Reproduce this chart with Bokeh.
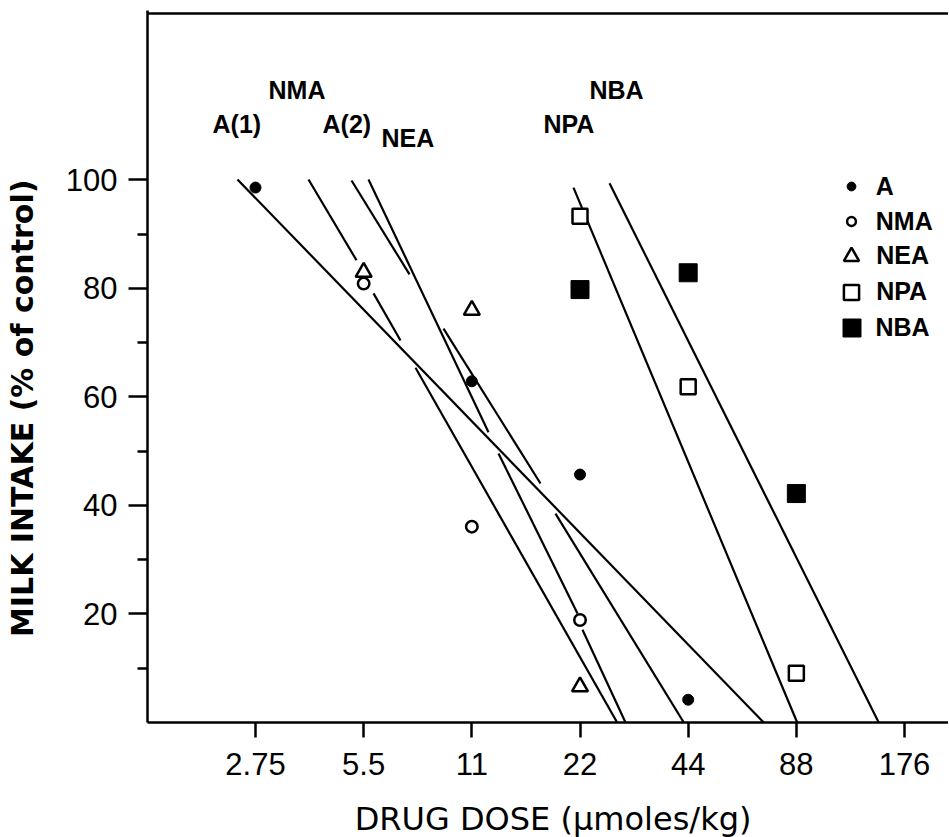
from bokeh.plotting import figure
from bokeh.models import Range1d, FixedTicker, Span, Legend, LegendItem
from bokeh.core.properties import value
from bokeh.embed import file_html
from bokeh.resources import INLINE

# ---------------- data ----------------
tick_doses = [2.75, 5.5, 11, 22, 44, 88, 176]
tick_labels = ["2.75", "5.5", "11", "22", "44", "88", "176"]
y_major = [20, 40, 60, 80, 100]
y_minor = [10, 30, 50, 70, 90]

a_dose = [2.75, 11, 22, 44]
a_intake = [98.6, 62.9, 45.7, 4.2]
nma_dose = [5.5, 11, 22]
nma_intake = [80.9, 36.1, 18.9]
nea_dose = [5.5, 11, 22]
nea_intake = [83.0, 76.0, 6.6]
npa_dose = [22, 44, 88]
npa_intake = [93.3, 61.9, 9.1]
nba_dose = [22, 44, 88]
nba_intake = [79.8, 82.9, 42.2]

# fitted dose-response lines, drawn as pen strokes (broken where they cross)
seg_dose0 = [2.450, 3.862, 5.858, 7.667, 5.088, 9.174, 18.80, 5.673, 13.05, 22.35, 21.10, 26.58]
seg_int0 = [100.1, 100.1, 79.1, 65.4, 99.9, 72.6, 38.5, 100.1, 49.6, 17.1, 98.6, 99.4]
seg_dose1 = [71.4, 5.253, 6.965, 27.92, 7.378, 17.08, 42.79, 12.24, 21.65, 29.45, 88.49, 149.2]
seg_int1 = [0.0, 85.2, 70.4, 0.0, 82.6, 44.06, 0.0, 53.5, 20.1, 0.0, 0.0, 0.0]

# line names written above the lines
ann_text = ["A(1)", "NMA", "A(2)", "NEA", "NPA", "NBA"]
ann_dose = [2.088, 2.989, 4.225, 6.166, 17.41, 23.38]
ann_int = [110.3, 116.65, 110.3, 107.75, 110.4, 116.65]

X_TITLE = "DRUG DOSE (\u03bcmoles/kg)"
Y_TITLE = "MILK INTAKE (% of control)"

# ---------------- figure ----------------
p = figure(x_axis_type="log", x_range=Range1d(1.3765, 233.3), y_range=Range1d(0, 131.24),
           frame_width=801, frame_height=712,
           min_border_left=147, min_border_right=0, min_border_top=10, min_border_bottom=115,
           output_backend="svg", toolbar_location=None,
           background_fill_color="white", border_fill_color="white", outline_line_color=None)
p.grid.visible = False

xa = p.xaxis[0]
ya = p.yaxis[0]
xa.ticker = FixedTicker(ticks=tick_doses, minor_ticks=[])
xa.major_label_overrides = {d: l for d, l in zip(tick_doses, tick_labels)}
ya.ticker = FixedTicker(ticks=y_major, minor_ticks=y_minor)

for ax in (xa, ya):
    ax.axis_line_width = 2.5
    ax.axis_line_color = "black"
    ax.major_tick_line_width = 2.5
    ax.minor_tick_line_width = 2.5
    ax.major_tick_line_color = "black"
    ax.minor_tick_line_color = "black"
    ax.major_tick_in = 0
    ax.minor_tick_in = 0
    ax.major_label_text_font = "Liberation Sans"
    ax.major_label_text_font_size = "31px"
    ax.major_label_text_color = "black"
    ax.axis_label_text_color = "black"
xa.major_tick_out = 15
xa.minor_tick_out = 0
xa.major_label_standoff = 15
ya.major_tick_out = 19
ya.minor_tick_out = 10
ya.major_label_standoff = 11

# axis titles (no-break spaces only nudge the centred titles along their axes)
xa.axis_label = "\u00a0" + X_TITLE
xa.axis_label_text_font = "DejaVu Sans"
xa.axis_label_text_font_style = "normal"
xa.axis_label_text_font_size = "32px"
xa.axis_label_standoff = 22
ya.axis_label = Y_TITLE + "\u00a0" * 8
ya.axis_label_text_font = "DejaVu Sans"
ya.axis_label_text_font_style = "bold"
ya.axis_label_text_font_size = "30px"
ya.axis_label_standoff = 23

# top border of the frame
p.add_layout(Span(location=130.7, dimension="width", line_color="black", line_width=2.5))

# lines
p.segment(x0=seg_dose0, y0=seg_int0, x1=seg_dose1, y1=seg_int1, line_color="black", line_width=2.2)

# points
r_a = p.scatter(a_dose, a_intake, marker="circle", size=11, fill_color="black", line_color="black", line_width=1)
r_nma = p.scatter(nma_dose, nma_intake, marker="circle", size=11.5, fill_color="white", line_color="black", line_width=2.5)
r_nea = p.scatter(nea_dose, nea_intake, marker="triangle", size=16, fill_color="white", line_color="black", line_width=2.5)
r_npa = p.scatter(npa_dose, npa_intake, marker="square", size=15, fill_color="white", line_color="black", line_width=2.5)
r_nba = p.scatter(nba_dose, nba_intake, marker="square", size=18, fill_color="black", line_color="black", line_width=1)

# line names
p.text(x=ann_dose, y=ann_int, text=ann_text, text_font=value("Liberation Sans"), text_font_style="bold",
       text_font_size="25px", text_align="left", text_baseline="alphabetic", text_color="black")

# legend (one entry per Legend so each symbol keeps its own size)
leg_labels = ["A", "NMA", "NEA", "NPA", "NBA"]
leg_renderers = [r_a, r_nma, r_nea, r_npa, r_nba]
leg_sizes = [9, 9, 15, 15, 18]
leg_row_y = [536, 501, 466, 430, 395]   # row centres, px above the frame bottom
LEG_SYM_X = 704                         # symbol centre, px right of the frame left
LEG_TXT_X = 729                         # label start
for lab, rend, sz, ry in zip(leg_labels, leg_renderers, leg_sizes, leg_row_y):
    w = sz / 0.4
    h = max(w, 30)
    lg = Legend(items=[LegendItem(label=lab, renderers=[rend])],
                location=(LEG_SYM_X - w / 2, ry - h / 2),
                glyph_width=int(round(w)), glyph_height=int(round(h)),
                label_standoff=int(round(LEG_TXT_X - (LEG_SYM_X + w / 2))),
                padding=0, margin=0, spacing=0, border_line_color=None,
                background_fill_alpha=0, label_height=20,
                label_text_font="Liberation Sans", label_text_font_style="bold",
                label_text_font_size="25px", label_text_color="black")
    p.add_layout(lg)

open("out.html", "w").write(file_html(p, INLINE))
